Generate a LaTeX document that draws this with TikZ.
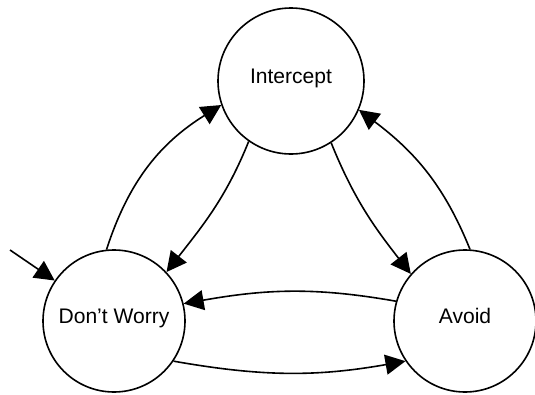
\documentclass[tikz,border=0pt]{standalone}
\usepackage{fontspec}
\setmainfont{Liberation Sans}
\usetikzlibrary{arrows.meta}

\begin{document}
\begin{tikzpicture}[x=0.75pt,y=0.75pt,
  statenode/.style={circle,draw,line width=1.2pt,inner sep=0pt,text height=11.5pt,text depth=8.5pt,font=\fontsize{15.8}{18}\selectfont},
  trans/.style={line width=1.2pt,-{Triangle[length=15pt,width=15pt]}}]
\useasboundingbox (0,0) rectangle (535,394);
% states
\node[statenode,minimum size=109.5pt] (ic) at (291,313) {Intercept};
\node[statenode,minimum size=106.5pt] (dw) at (114,73) {Don’t Worry};
\node[statenode,minimum size=106.5pt] (av) at (465,73) {Avoid};
% initial arrow
\coordinate (start) at (10,144);
\draw[trans] (start) -- (dw);
% transitions
\draw[trans] (dw.96) to[out=72,in=212] (ic.199);
\draw[trans] (ic.235) to[out=248,in=52] (dw.43);
\draw[trans] (ic.303) to[out=-68,in=128] (av.139);
\draw[trans] (av.86) to[out=112,in=323] (ic.337);
\draw[trans] (av.164) to[out=170,in=10] (dw.14);
\draw[trans] (dw.-34) to[out=-10,in=190] (av.214);
\end{tikzpicture}
\end{document}
